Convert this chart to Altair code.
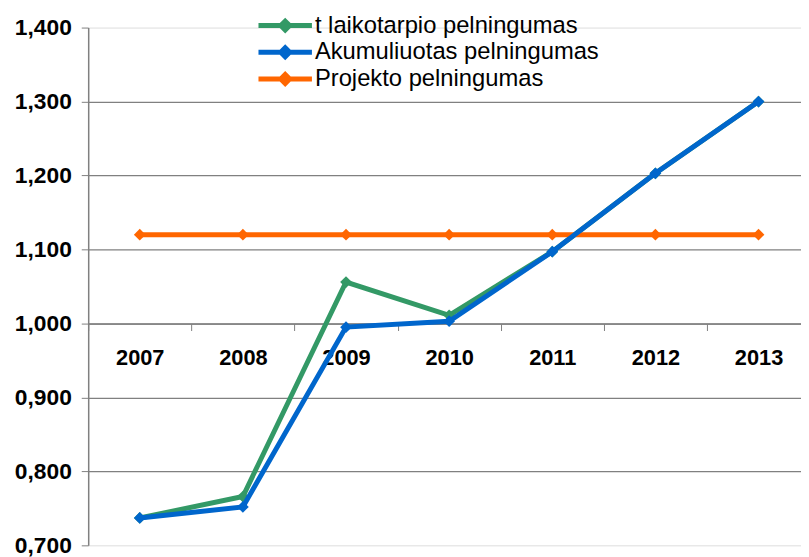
import altair as alt
import pandas as pd

years = [2007, 2008, 2009, 2010, 2011, 2012, 2013]
series_names = ["t laikotarpio pelningumas", "Akumuliuotas pelningumas", "Projekto pelningumas"]
t_laikotarpio = [0.737, 0.766, 1.056, 1.011, 1.097, 1.203, 1.300]
akumuliuotas = [0.737, 0.752, 0.995, 1.003, 1.097, 1.203, 1.300]
projekto = [1.120, 1.120, 1.120, 1.120, 1.120, 1.120, 1.120]
colors = ["#339966", "#0066CC", "#FF6600"]
y_ticks = [0.7, 0.8, 0.9, 1.0, 1.1, 1.2, 1.3, 1.4]

rows = []
for name, vals, order in zip(series_names, [t_laikotarpio, akumuliuotas, projekto], [0, 2, 1]):
    for yr, v in zip(years, vals):
        rows.append({"year": yr, "value": v, "series": name, "draw": order})
df = pd.DataFrame(rows)

FONT = "Liberation Sans"
W, H = 720, 523
BAND = 104.17
x_scale = alt.Scale(domain=[2006.5, 2006.5 + W / BAND], nice=False, zero=False)
y_scale = alt.Scale(domain=[0.7, 1.4], nice=False, zero=False)
color_scale = alt.Scale(domain=series_names, range=colors)

diamond_path = "M-3,0L3,0M0,-0.5L0.5,0L0,0.5L-0.5,0Z"

x_axis = alt.Axis(
    values=years, format="d", offset=-224, tickOffset=-BAND / 2, labelOffset=BAND / 2,
    tickSize=7, tickColor="#808080", domainColor="#808080", domainWidth=1.5,
    labelFont=FONT, labelFontSize=22, labelFontWeight="bold", labelColor="#000000",
    labelPadding=17, grid=False, title=None, labelOverlap=False,
)
y_axis = alt.Axis(
    values=y_ticks, labelExpr="replace(format(datum.value, '.3f'), '.', ',')",
    tickSize=7, tickColor="#808080", domainColor="#808080", domainWidth=1.5,
    labelFont=FONT, labelFontSize=23, labelFontWeight="bold", labelColor="#000000",
    labelPadding=10, title=None,
    grid=True, gridColor={"condition": {"test": "datum.value < 0.75 || datum.value > 1.35", "value": "transparent"}, "value": "#808080"},
    gridWidth=1.2,
)

base = alt.Chart(df).encode(
    x=alt.X("year:Q", scale=x_scale, axis=x_axis),
    y=alt.Y("value:Q", scale=y_scale, axis=y_axis),
    color=alt.Color(
        "series:N", scale=color_scale,
        legend=alt.Legend(
            title=None, orient="none", legendX=187, legendY=-14,
            symbolType=diamond_path, symbolSize=324, symbolStrokeWidth=5,
            labelFont=FONT, labelFontSize=24, labelColor="#000000", labelOffset=18,
            rowPadding=-4, padding=0, labelLimit=400,
        ),
    ),
    detail="series:N",
    order=alt.Order("draw:Q"),
)

lines = []
for order in [0, 1, 2]:
    lines.append(
        base.transform_filter(f"datum.draw == {order}").mark_line(
            strokeWidth=5, clip=False,
            point=alt.OverlayMarkDef(filled=True, shape="diamond", size=140, strokeWidth=1),
        )
    )

chart = alt.layer(*lines).properties(
    width=W, height=H,
    autosize=alt.AutoSizeParams(type="none"),
    padding={"left": 81, "top": 17, "right": 0, "bottom": 9},
).configure_view(stroke=None).configure(background="#ffffff")

chart.save("out.html", embed_options={"renderer": "svg", "actions": False})
